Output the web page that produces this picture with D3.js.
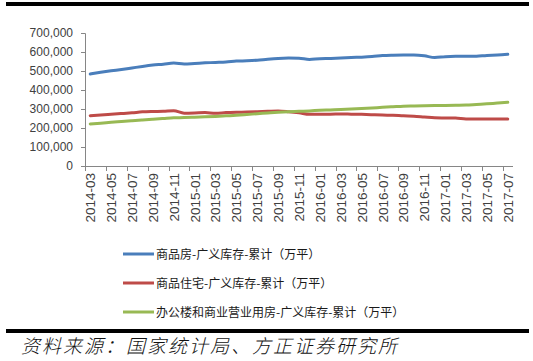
<!DOCTYPE html>
<html><head><meta charset="utf-8">
<script src="https://cdn.jsdelivr.net/npm/d3@7"></script>
<style>
html,body{margin:0;padding:0;background:#fff;}
svg{display:block;}
</style></head>
<body>
<svg id="chart" width="533" height="361"></svg>
<script>
const months = ["2014-03","2014-04","2014-05","2014-06","2014-07","2014-08","2014-09","2014-10","2014-11","2014-12",
"2015-01","2015-02","2015-03","2015-04","2015-05","2015-06","2015-07","2015-08","2015-09","2015-10","2015-11","2015-12",
"2016-01","2016-02","2016-03","2016-04","2016-05","2016-06","2016-07","2016-08","2016-09","2016-10","2016-11","2016-12",
"2017-01","2017-02","2017-03","2017-04","2017-05","2017-06","2017-07"];
const commercialHousing = [484000,493000,501000,508000,516000,524000,531000,536000,542000,537000,
540000,543000,545000,547000,552000,554000,557000,562000,566000,568000,567000,561000,
565000,566000,568000,571000,573000,576000,581000,583000,584000,584000,580000,571000,
575000,577000,577000,578000,582000,584000,588000];
const residential = [265000,268000,272000,276000,280000,285000,287000,288000,291000,278000,
279000,281000,277000,281000,283000,284000,286000,288000,290000,286000,280000,272000,
273000,273000,274000,273000,272000,270000,268000,267000,264000,262000,258000,254000,
253000,252000,248000,247000,247000,247000,247000];
const officeCommercial = [221000,225000,230000,234000,238000,242000,246000,250000,254000,255000,
257000,259000,261000,264000,267000,271000,275000,279000,283000,286000,288000,290000,
293000,295000,297000,300000,302000,305000,309000,312000,315000,316000,317000,318000,
319000,320000,321000,324000,327000,331000,335000];
const seriesNames = ["商品房-广义库存-累计（万平）","商品住宅-广义库存-累计（万平）","办公楼和商业营业用房-广义库存-累计（万平）"];
const seriesColors = ["#4A7EBB","#BE4B48","#98B954"];
const yTicks = [0,100000,200000,300000,400000,500000,600000,700000];
const sourceText = "资料来源：国家统计局、方正证券研究所";

const svg = d3.select("#chart");
const mLeft = 85, mRight = 513, mTop = 33, mBottom = 166;

const x = d3.scaleBand().domain(months).range([mLeft, mRight]);
const y = d3.scaleLinear().domain([0,700000]).range([mBottom, mTop]);

// top & bottom bars
svg.append("rect").attr("x",6).attr("y",2).attr("width",523).attr("height",4).attr("fill","#000");
svg.append("rect").attr("x",6).attr("y",329).attr("width",523).attr("height",4).attr("fill","#000");

// y axis
const yAxis = svg.append("g").attr("transform",`translate(${mLeft},0)`)
  .call(d3.axisLeft(y).tickValues(yTicks).tickSize(4).tickPadding(8).tickFormat(d3.format(",")));
yAxis.select(".domain").attr("stroke","#868686");
yAxis.selectAll(".tick line").attr("stroke","#868686");
yAxis.selectAll(".tick text").attr("fill","#404040").style("font-family","Liberation Sans, Arial, sans-serif").style("font-size","12px");

// x axis: ticks every 2 categories at boundaries
const tickBounds = d3.range(0, months.length + 1, 2).map(i => mLeft + i * x.step());
const xg = svg.append("g");
xg.append("line").attr("x1",mLeft).attr("x2",mRight).attr("y1",mBottom+0.5).attr("y2",mBottom+0.5).attr("stroke","#868686");
xg.selectAll("line.tk").data(tickBounds).join("line").attr("class","tk")
  .attr("x1",d=>Math.round(d)+0.5).attr("x2",d=>Math.round(d)+0.5).attr("y1",mBottom).attr("y2",mBottom+5).attr("stroke","#868686");
const labelMonths = months.filter((m,i)=>i%2===0);
xg.selectAll("text").data(labelMonths).join("text")
  .attr("transform",d=>`translate(${x(d)+x.bandwidth()/2+5},173) rotate(-90)`)
  .attr("text-anchor","end")
  .attr("fill","#404040")
  .style("font-family","Liberation Sans, Arial, sans-serif").style("font-size","13.5px")
  .text(d=>d);

// lines
const allSeries = [commercialHousing, residential, officeCommercial];
const line = d3.line().x((d,i)=>x(months[i])+x.bandwidth()/2).y(d=>y(d)).curve(d3.curveMonotoneX);
allSeries.forEach((s,k)=>{
  svg.append("path").datum(s).attr("d",line).attr("fill","none")
    .attr("stroke",seriesColors[k]).attr("stroke-width",3).attr("stroke-linejoin","round").attr("stroke-linecap","round");
});

// legend
const lg = svg.append("g");
seriesNames.forEach((n,k)=>{
  const yy = 254 + k*29;
  lg.append("line").attr("x1",123).attr("x2",154).attr("y1",yy).attr("y2",yy).attr("stroke",seriesColors[k]).attr("stroke-width",3);
  lg.append("text").attr("x",156).attr("y",yy+4.5).attr("fill","#1a1a1a")
    .style("font-family","Noto Sans CJK SC, sans-serif").style("font-size","12px").text(n);
});

// source
svg.append("text").attr("x",21).attr("y",353).attr("fill","#111")
  .style("font-family","Noto Sans CJK SC, sans-serif").style("font-size","19px").style("font-style","italic")
  .style("font-weight","300").attr("textLength",376).attr("lengthAdjust","spacing")
  .text(sourceText);
</script>
</body></html>
